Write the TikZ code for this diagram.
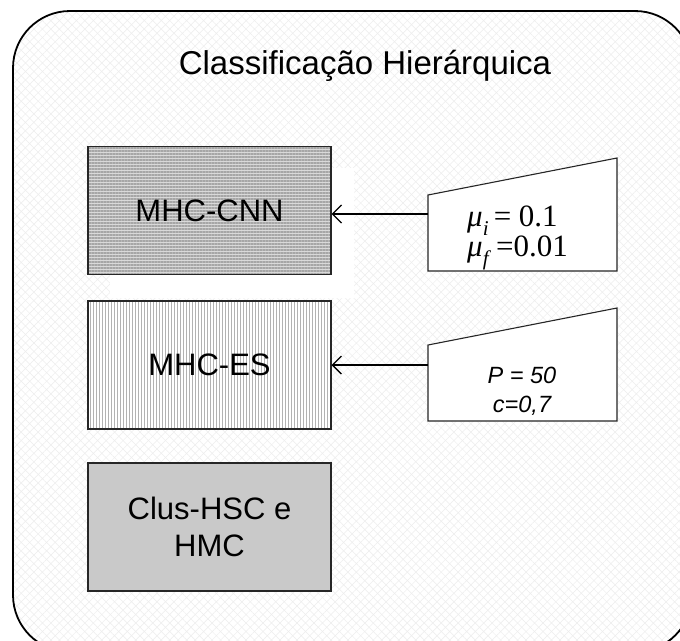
\documentclass[tikz,border=0pt]{standalone}
\usepackage{fontspec}
\setmainfont{Liberation Sans}
\newfontfamily\tms{Liberation Serif}
\usetikzlibrary{patterns.meta,arrows.meta}
\newcommand{\mysub}[1]{\raisebox{-0.28em}{\fontsize{21}{21}\selectfont\textit{#1}}}
\begin{document}
\begin{tikzpicture}[x=1pt,y=-1pt,
  hatch/.style={pattern={Lines[angle=#1,distance=6pt,line width=0.5pt]},pattern color=gray!14},
  algbox/.style={draw=black!85,line width=1.6pt,minimum width=243pt,minimum height=128pt,
    inner sep=0pt,font=\fontsize{31}{37}\selectfont,align=center},
  callout/.style={draw=black!85,line width=1.1pt,fill=white},
  conn/.style={line width=1.3pt,-{Straight Barb[length=9pt,width=18pt,line width=1.3pt]}}]
\useasboundingbox (0,0) rectangle (680,640);
\clip (0,0) rectangle (680,640);
% outer frame
\fill[white,rounded corners=57pt] (13,11) rectangle (692,652);
\path[hatch=45,rounded corners=57pt] (13,11) rectangle (692,652);
\path[hatch=-45,rounded corners=57pt] (13,11) rectangle (692,652);
\draw[line width=1.8pt,rounded corners=57pt] (13,11) rectangle (692,652);
\node[font=\fontsize{33}{40}\selectfont] (title) at (365,66) {Classificação Hierárquica};
% white backing behind first box
\fill[white] (110,168) rectangle (354,298);
% algorithm boxes
\node[algbox,preaction={fill=gray!30},pattern={Lines[angle=0,distance=3pt,line width=1.3pt]},pattern color=gray!70]
  (cnn) at (209.5,210.5) {MHC-CNN};
\node[algbox,preaction={fill=white},pattern={Lines[angle=90,distance=3pt,line width=1pt]},pattern color=gray!60]
  (es) at (209.5,365) {MHC-ES};
\node[algbox,fill=gray!42] (clus) at (209.5,527) {Clus-HSC e\\HMC};
% parameter callouts
\draw[callout] (428,195) -- (617,158) -- (617,271) -- (428,271) -- cycle;
\coordinate (p1) at (428,214);
\node[font=\tms\fontsize{31}{29}\selectfont,align=left,anchor=west,inner sep=0pt] (par1) at (467,238)
  {\textit{μ}\mysub{i}\,= 0.1\\\textit{μ}\mysub{f}\,=0.01};
\draw[callout] (428,345) -- (617,308) -- (617,421) -- (428,421) -- cycle;
\coordinate (p2) at (428,365);
\node[font=\itshape\fontsize{23.5}{29}\selectfont,align=center] (par2) at (522,391)
  {P = 50\\c=0,7};
% connectors
\draw[conn] (p1) -- (cnn.east |- p1);
\draw[conn] (p2) -- (es.east |- p2);
\end{tikzpicture}
\end{document}
